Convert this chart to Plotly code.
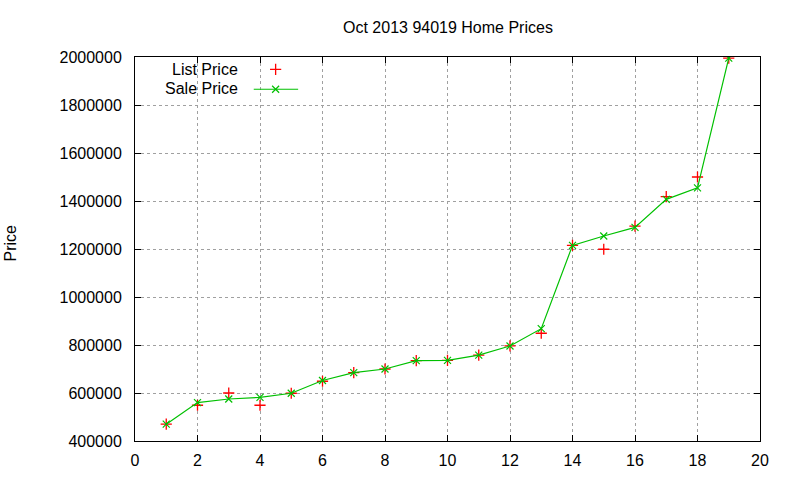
import plotly.graph_objects as go

x_vals = list(range(1, 20))
list_price = [470000, 549000, 600000, 549000, 599000, 649000, 685000, 700000, 735000, 736000,
              758000, 796000, 849000, 1215000, 1199000, 1295000, 1418000, 1500000, 1995000]
sale_price = [470000, 560000, 575000, 582000, 599000, 652000, 685000, 700000, 735000, 736000,
              758000, 796000, 868000, 1215000, 1254000, 1290000, 1407000, 1455000, 1995000]
title_text = "Oct 2013 94019 Home Prices"
y_ticks = [400000, 600000, 800000, 1000000, 1200000, 1400000, 1600000, 1800000, 2000000]
x_ticks = [0, 2, 4, 6, 8, 10, 12, 14, 16, 18, 20]

RED = "#ff0000"
GREEN = "#00c000"
FONT = "Liberation Sans, Arial, sans-serif"
FS = 16

fig = go.Figure()
fig.add_trace(go.Scatter(x=x_vals, y=list_price, mode="markers", name="List Price",
                         marker=dict(symbol="cross-thin", size=8, line=dict(color=RED, width=1.3))))
fig.add_trace(go.Scatter(x=x_vals, y=sale_price, mode="lines+markers", name="Sale Price",
                         line=dict(color=GREEN, width=1.2),
                         marker=dict(symbol="x-thin", size=7, color=GREEN, line=dict(color=GREEN, width=1.2))))

# legend samples on an overlay axis (0..1 coordinates spanning the plot area)
fig.add_trace(go.Scatter(x=[0.225], y=[0.968], mode="markers", xaxis="x2", yaxis="y2",
                         marker=dict(symbol="cross-thin", size=8, line=dict(color=RED, width=1.3)),
                         hoverinfo="skip"))
fig.add_trace(go.Scatter(x=[0.190, 0.261], y=[0.916, 0.916], mode="lines", xaxis="x2", yaxis="y2",
                         line=dict(color=GREEN, width=1.2), hoverinfo="skip"))
fig.add_trace(go.Scatter(x=[0.225], y=[0.916], mode="markers", xaxis="x2", yaxis="y2",
                         marker=dict(symbol="x-thin", size=7, color=GREEN, line=dict(color=GREEN, width=1.2)),
                         hoverinfo="skip"))

axis_common = dict(showline=True, linecolor="black", linewidth=1, mirror="ticks", ticks="inside",
                   ticklen=6, tickcolor="black", showgrid=True, gridcolor="#a0a0a0", griddash="dot",
                   gridwidth=1, zeroline=False, automargin=False,
                   tickfont=dict(family=FONT, size=FS, color="black"))

fig.update_layout(
    width=800, height=480,
    margin=dict(l=135, r=40, t=57, b=39),
    paper_bgcolor="white", plot_bgcolor="white",
    showlegend=False,
    font=dict(family=FONT, size=FS, color="black"),
    xaxis=dict(range=[0, 20], tickvals=x_ticks, ticklabelstandoff=5, **axis_common),
    yaxis=dict(range=[400000, 2000000], tickvals=y_ticks, tickformat="d", ticklabelstandoff=9,
               **axis_common),
    xaxis2=dict(range=[0, 1], overlaying="x", visible=False, fixedrange=True),
    yaxis2=dict(range=[0, 1], overlaying="y", visible=False, fixedrange=True),
    annotations=[
        dict(text=title_text, xref="paper", yref="paper", x=0.5, y=1, yshift=30,
             xanchor="center", yanchor="middle", showarrow=False, font=dict(size=FS)),
        dict(text="Price", xref="paper", yref="paper", x=-0.199, y=0.516, textangle=-90,
             xanchor="center", yanchor="middle", showarrow=False, font=dict(size=FS)),
        dict(text="List Price", xref="paper", yref="paper", x=0.168, y=0.968,
             xanchor="right", yanchor="middle", showarrow=False, font=dict(size=FS)),
        dict(text="Sale Price", xref="paper", yref="paper", x=0.168, y=0.918,
             xanchor="right", yanchor="middle", showarrow=False, font=dict(size=FS)),
    ],
)

fig.write_html("out.html")
